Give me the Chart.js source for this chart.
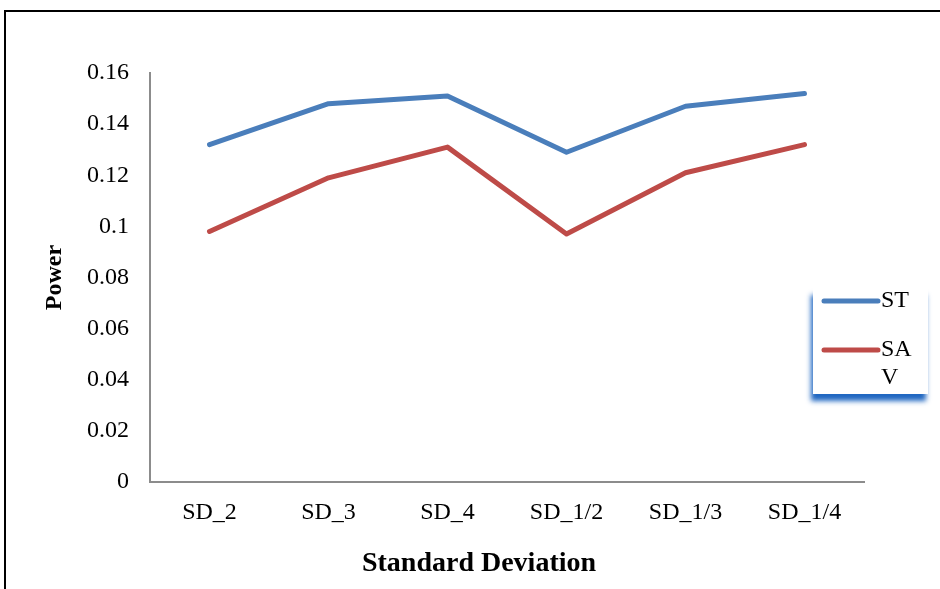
<!DOCTYPE html>
<html>
<head>
<meta charset="utf-8">
<script src="https://cdn.jsdelivr.net/npm/chart.js@4/dist/chart.umd.min.js"></script>
<style>
  html, body { margin: 0; padding: 0; background: #ffffff; }
  #wrap { position: relative; width: 940px; height: 589px; }
</style>
</head>
<body>
<div id="wrap"><canvas id="c" width="940" height="589"></canvas></div>
<script>
// Categories along the x axis
const categories = ['SD_2', 'SD_3', 'SD_4', 'SD_1/2', 'SD_1/3', 'SD_1/4'];
// Power per standard deviation setting
const stValues = [0.132, 0.148, 0.151, 0.129, 0.147, 0.152];
const savValues = [0.098, 0.119, 0.131, 0.097, 0.121, 0.132];
const seriesNames = ['ST', 'SAV'];
const yTitle = 'Power';
const xTitle = 'Standard Deviation';

const FONT = '"Liberation Serif", "Times New Roman", serif';

// Outer frame: top and left rules
const framePlugin = {
  id: 'frame',
  beforeDraw(chart) {
    const ctx = chart.ctx;
    ctx.save();
    ctx.fillStyle = '#ffffff';
    ctx.fillRect(0, 0, chart.width, chart.height);
    ctx.strokeStyle = '#000000';
    ctx.lineWidth = 2;
    ctx.beginPath();
    ctx.moveTo(5, chart.height);
    ctx.lineTo(5, 11);
    ctx.lineTo(chart.width, 11);
    ctx.stroke();
    ctx.restore();
  }
};

// Category axis title, set slightly left of the plot centre
const xTitlePlugin = {
  id: 'xTitle',
  afterDraw(chart) {
    const ctx = chart.ctx;
    const a = chart.chartArea;
    ctx.save();
    ctx.font = 'bold 28px ' + FONT;
    ctx.fillStyle = '#000000';
    ctx.textAlign = 'center';
    ctx.textBaseline = 'middle';
    ctx.fillText(xTitle, (a.left + a.right) / 2 - 28, 564);
    ctx.restore();
  }
};

// Boxed legend with a blue drop shadow, label text wrapped to the box width
const boxLegendPlugin = {
  id: 'boxLegend',
  afterDraw(chart) {
    const ctx = chart.ctx;
    const bx = 813, by = 288, bw = 115, bh = 106;
    ctx.save();
    ctx.shadowColor = 'rgba(20, 95, 190, 0.95)';
    ctx.shadowBlur = 5;
    ctx.shadowOffsetX = -2;
    ctx.shadowOffsetY = 7;
    ctx.fillStyle = '#ffffff';
    ctx.fillRect(bx, by, bw, bh);
    ctx.restore();

    ctx.save();
    ctx.font = '24px ' + FONT;
    ctx.textBaseline = 'middle';
    ctx.fillStyle = '#000000';
    const maxW = 44;
    const rows = [301, 350];
    chart.data.datasets.forEach((ds, i) => {
      const y = rows[i];
      ctx.strokeStyle = ds.borderColor;
      ctx.lineWidth = 5;
      ctx.lineCap = 'round';
      ctx.beginPath();
      ctx.moveTo(824, y);
      ctx.lineTo(878, y);
      ctx.stroke();
      // character wrap
      const lines = [];
      let cur = '';
      for (const ch of ds.label) {
        if (cur && ctx.measureText(cur + ch).width > maxW) {
          lines.push(cur);
          cur = ch;
        } else {
          cur += ch;
        }
      }
      if (cur) lines.push(cur);
      lines.forEach((t, k) => ctx.fillText(t, 881, y + k * 28));
    });
    ctx.restore();
  }
};

new Chart(document.getElementById('c'), {
  type: 'line',
  data: {
    labels: categories,
    datasets: [
      {
        label: seriesNames[0],
        data: stValues,
        borderColor: '#4a7ebb',
        backgroundColor: '#4a7ebb',
        borderWidth: 5,
        pointRadius: 0,
        borderCapStyle: 'round',
        borderJoinStyle: 'round',
        tension: 0
      },
      {
        label: seriesNames[1],
        data: savValues,
        borderColor: '#be4b48',
        backgroundColor: '#be4b48',
        borderWidth: 5,
        pointRadius: 0,
        borderCapStyle: 'round',
        borderJoinStyle: 'round',
        tension: 0
      }
    ]
  },
  options: {
    responsive: false,
    animation: false,
    events: [],
    layout: { padding: { left: 0, top: 73, right: 76, bottom: 0 } },
    plugins: {
      legend: { display: false },
      tooltip: { enabled: false },
      title: { display: false }
    },
    scales: {
      x: {
        type: 'category',
        offset: true,
        grid: { display: false, drawTicks: false },
        border: { display: true, color: '#8c8c8c', width: 2 },
        ticks: {
          color: '#000000',
          font: { family: FONT, size: 24 },
          padding: 16,
          maxRotation: 0,
          autoSkip: false
        },
        afterFit(scale) { scale.height = 107; }
      },
      y: {
        min: 0,
        max: 0.16,
        grid: { display: false, drawTicks: false },
        border: { display: true, color: '#8c8c8c', width: 2 },
        ticks: {
          stepSize: 0.02,
          color: '#000000',
          font: { family: FONT, size: 24 },
          padding: 21,
          callback: (v) => String(+Number(v).toFixed(2))
        },
        title: {
          display: true,
          text: yTitle,
          color: '#000000',
          font: { family: FONT, size: 24, weight: 'bold' },
          padding: { top: 40, bottom: 0 }
        },
        afterFit(scale) { scale.width = 150; }
      }
    }
  },
  plugins: [framePlugin, xTitlePlugin, boxLegendPlugin]
});
</script>
</body>
</html>
